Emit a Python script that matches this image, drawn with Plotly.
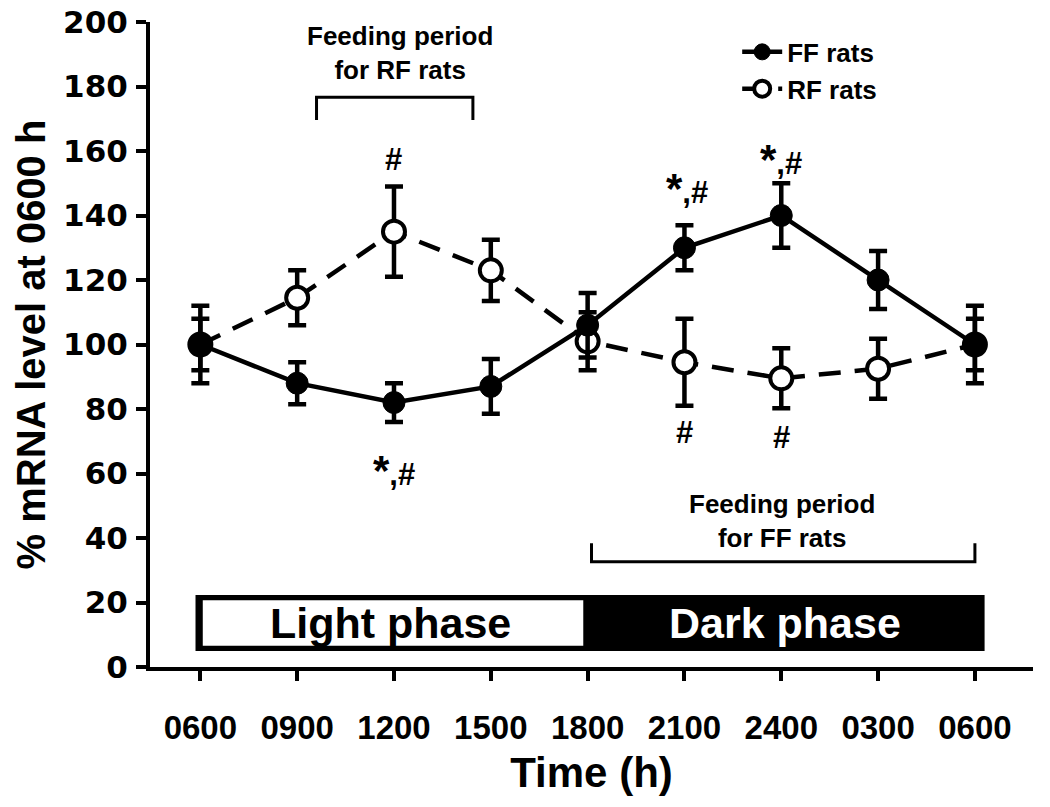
import plotly.graph_objects as go

time_labels = ["0600", "0900", "1200", "1500", "1800", "2100", "2400", "0300", "0600"]
x_pos = list(range(len(time_labels)))

ff_mean = [100, 88, 82, 87, 106, 130, 140, 120, 100]
ff_err = [12, 6.5, 6, 8.5, 10, 7, 10, 9, 12]
rf_mean = [100, 114.5, 135, 123, 101, 94.5, 89.5, 92.5, 100]
rf_err = [8, 8.5, 14, 9.5, 9, 13.5, 9.3, 9.3, 8]

y_ticks = [0, 20, 40, 60, 80, 100, 120, 140, 160, 180, 200]

BOLD = "Liberation Sans"

fig = go.Figure()

# light / dark phase bar
fig.add_shape(type="rect", x0=-0.05, x1=8.1, y0=5.0, y1=22.3,
              fillcolor="black", line=dict(width=0), layer="below")
fig.add_shape(type="rect", x0=0.025, x1=3.955, y0=6.6, y1=20.7,
              fillcolor="white", line=dict(width=0), layer="below")
fig.add_annotation(x=1.96, y=13.7, text="<b>Light phase</b>", showarrow=False,
                   font=dict(family=BOLD, size=43, color="black"))
fig.add_annotation(x=6.04, y=13.7, text="<b>Dark phase</b>", showarrow=False,
                   font=dict(family=BOLD, size=43, color="white"))

# feeding period brackets
fig.add_shape(type="path", path="M 1.2,169.6 L 1.2,176.7 L 2.815,176.7 L 2.815,169.6",
              line=dict(color="black", width=3))
fig.add_annotation(x=2.06, y=190.5, text="<b>Feeding period<br>for RF rats</b>", showarrow=False,
                   font=dict(family=BOLD, size=26, color="black"))
fig.add_shape(type="path", path="M 4.04,38.4 L 4.04,32.6 L 8.0,32.6 L 8.0,38.4",
              line=dict(color="black", width=3))
fig.add_annotation(x=6.01, y=45.3, text="<b>Feeding period<br>for FF rats</b>", showarrow=False,
                   font=dict(family=BOLD, size=26, color="black"))

# series
fig.add_trace(go.Scatter(
    x=x_pos, y=rf_mean, name="RF rats", mode="lines+markers",
    line=dict(color="black", width=4.5, dash="22px,14px"),
    marker=dict(symbol="circle", size=22, color="white", line=dict(color="black", width=4)),
    error_y=dict(type="data", array=rf_err, color="black", thickness=4.5, width=9),
))
fig.add_trace(go.Scatter(
    x=x_pos, y=ff_mean, name="FF rats", mode="lines+markers",
    line=dict(color="black", width=4.5),
    marker=dict(symbol="circle", size=22, color="black", line=dict(color="black", width=1)),
    error_y=dict(type="data", array=ff_err, color="black", thickness=4.5, width=9),
))

# significance marks
star = "<span style='font-size:42px'>*</span>,#"
marks = [
    (2, 157.5, "#"),
    (2, 61, star),
    (5.03, 148.5, star),
    (6.0, 157.5, star),
    (5.0, 72.8, "#"),
    (6.0, 71.3, "#"),
]
for mx, my, mt in marks:
    fig.add_annotation(x=mx, y=my, text="<b>" + mt + "</b>", showarrow=False,
                       font=dict(family=BOLD, size=31, color="black"))

fig.update_layout(
    width=1050, height=807,
    margin=dict(l=150, r=17, t=22, b=140, autoexpand=False),
    paper_bgcolor="white", plot_bgcolor="white",
    showlegend=True,
    legend=dict(x=0.665, y=0.99, xanchor="left", yanchor="top",
                font=dict(family=BOLD, size=26, color="black", weight="bold"),
                traceorder="reversed", bgcolor="rgba(0,0,0,0)", itemwidth=40,
                tracegroupgap=0),
    xaxis=dict(
        range=[-0.52, 8.6], tickmode="array", tickvals=x_pos, ticktext=time_labels,
        showline=True, linecolor="black", linewidth=4, ticks="outside", ticklen=10,
        tickwidth=4, tickcolor="black", showgrid=False, zeroline=False, automargin=False,
        tickfont=dict(family=BOLD, size=33, color="black", weight="bold"),
        ticklabelstandoff=18,
        title=dict(text="<b>Time (h)</b>", font=dict(family=BOLD, size=42, color="black"), standoff=14),
    ),
    yaxis=dict(
        range=[0, 200], tickmode="array", tickvals=y_ticks,
        showline=True, linecolor="black", linewidth=4, ticks="outside", ticklen=10,
        tickwidth=4, tickcolor="black", showgrid=False, zeroline=False, automargin=False,
        tickfont=dict(family="DejaVu Sans", size=31, color="black", weight="bold"),
        ticklabelstandoff=2,
        title=dict(text="<b>% mRNA level at 0600 h</b>", font=dict(family=BOLD, size=40, color="black"), standoff=6),
    ),
)

fig.write_html("out.html", config={"displayModeBar": False},
               post_script="document.body.style.margin='0';")
